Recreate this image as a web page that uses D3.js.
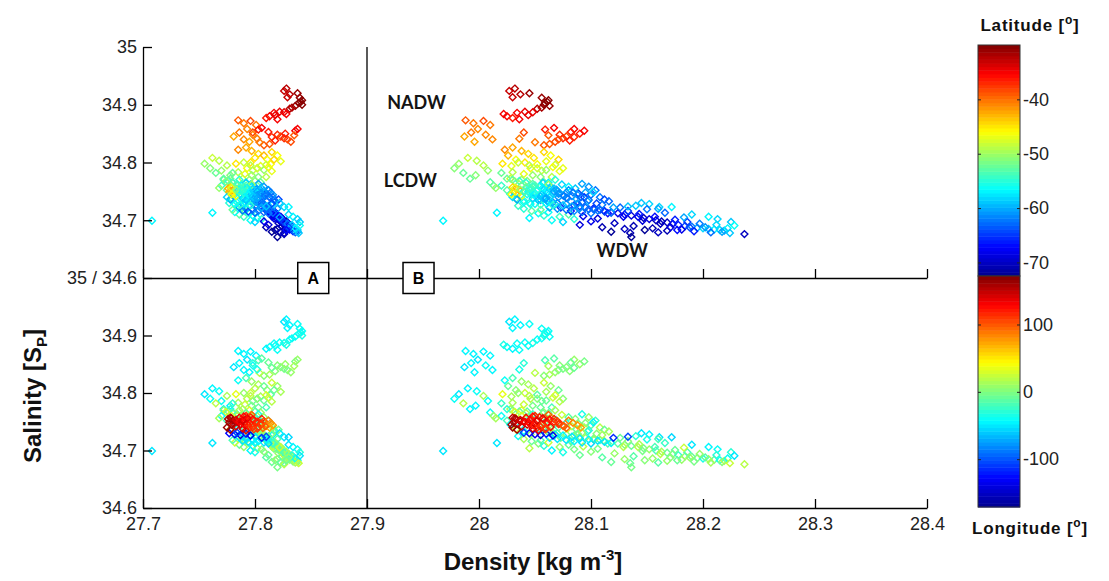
<!DOCTYPE html>
<html>
<head>
<meta charset="utf-8">
<script src="https://cdn.jsdelivr.net/npm/d3@7"></script>
<style>
  body { margin: 0; background: #fff; }
  svg text { font-family: "Liberation Sans", Arial, sans-serif; }
</style>
</head>
<body>
<svg id="chart" width="1109" height="581"></svg>
<script>
// each observation is plotted twice: once with density A (left cloud), once with density B (right cloud)
// groups: NADW curl | red row | orange scatter | orange cluster | yellow middle | green-left scatter |
//         yellow-green middle | green-cyan middle | lower spread | WDW band | band fill | mid dense |
//         cyan strip | blue strip | red-longitude cluster | red-longitude fill
var salinity = [
  34.928, 34.924, 34.918, 34.913, 34.920, 34.912, 34.905, 34.903, 34.898, 34.895, 34.900, 34.893, 34.908,
  34.888, 34.886, 34.887, 34.880, 34.877, 34.875, 34.882, 34.884,
  34.873, 34.868, 34.872, 34.865, 34.858, 34.852, 34.848, 34.845, 34.840, 34.836,
  34.848, 34.845, 34.842, 34.840, 34.838, 34.836, 34.844, 34.850, 34.855, 34.858, 34.832, 34.830, 34.853, 34.860, 34.857, 34.847, 34.835, 34.852, 34.841,
  34.826, 34.820, 34.815, 34.812, 34.808, 34.805, 34.800, 34.797, 34.794, 34.790, 34.822, 34.818, 34.812, 34.805, 34.802, 34.796, 34.790, 34.786,
  34.808, 34.803, 34.798, 34.795, 34.790, 34.786, 34.782, 34.778, 34.772, 34.766, 34.760, 34.699, 34.713,
  34.800, 34.795, 34.790, 34.787, 34.783, 34.780, 34.778, 34.775, 34.772, 34.770, 34.768, 34.792, 34.785, 34.775, 34.766, 34.798, 34.782,
  34.770, 34.768, 34.765, 34.763, 34.760, 34.765, 34.770, 34.762, 34.758, 34.755, 34.772, 34.767, 34.760, 34.756, 34.752, 34.745, 34.763, 34.758, 34.752, 34.748, 34.744, 34.740, 34.736, 34.733, 34.749, 34.730, 34.723, 34.723,
  34.725, 34.720, 34.716, 34.712, 34.708, 34.704, 34.700, 34.706, 34.710, 34.714, 34.718, 34.702, 34.697,
  34.735, 34.732, 34.730, 34.728, 34.726, 34.724, 34.722, 34.720, 34.718, 34.716, 34.714, 34.712, 34.710, 34.708, 34.706, 34.704, 34.702, 34.700, 34.698, 34.696, 34.694, 34.692, 34.690, 34.689, 34.687, 34.686, 34.685, 34.684, 34.683, 34.682,
  34.688, 34.680, 34.685, 34.678, 34.683, 34.679, 34.682, 34.671, 34.676, 34.692, 34.698,
  34.725, 34.728, 34.720, 34.710, 34.706, 34.702, 34.697,
  34.741, 34.731, 34.722, 34.738, 34.716, 34.729, 34.707, 34.733, 34.719, 34.703, 34.727, 34.712, 34.695, 34.722, 34.706, 34.716, 34.690, 34.711, 34.699, 34.719,
  34.686, 34.706, 34.694, 34.713, 34.688, 34.701, 34.684, 34.697, 34.705, 34.681, 34.694, 34.688, 34.679, 34.692, 34.680, 34.686, 34.678, 34.691, 34.688, 34.683,
  34.752, 34.746, 34.740, 34.735, 34.748, 34.742, 34.737, 34.731, 34.744, 34.738, 34.733, 34.755, 34.760, 34.765, 34.758, 34.753, 34.734, 34.728, 34.743, 34.737, 34.746, 34.740, 34.735, 34.729, 34.760,
  34.722, 34.720, 34.718, 34.716, 34.714, 34.712, 34.726, 34.724, 34.721, 34.719, 34.717, 34.715, 34.713, 34.728,
  34.730, 34.728, 34.727, 34.729, 34.726, 34.731, 34.722, 34.724,
  34.757, 34.755, 34.752, 34.749, 34.746, 34.742, 34.757, 34.754, 34.750, 34.747, 34.744, 34.740, 34.758, 34.753, 34.749, 34.745, 34.741, 34.737, 34.755, 34.751, 34.747, 34.743, 34.739, 34.752, 34.748, 34.744, 34.740, 34.750, 34.745, 34.738, 34.735, 34.760, 34.762, 34.736, 34.740,
  34.756, 34.753, 34.750, 34.747, 34.744, 34.741, 34.738, 34.754, 34.750, 34.746, 34.742, 34.756, 34.752, 34.759, 34.745
];
var latitude = [
  -32, -33, -32, -33, -31, -31, -30.5, -30.5, -31, -31.5, -30.5, -32, -30,
  -34, -35, -34, -35, -36, -35, -34, -35,
  -39, -40, -38, -40, -41, -40, -41, -42, -41, -42,
  -37, -38, -37, -38, -36, -38, -37, -36, -35, -35, -39, -39, -36, -35, -36, -39, -40, -38, -40,
  -42, -43, -44, -43, -45, -46, -45, -46, -47, -46, -41, -44, -46, -44, -47, -48, -47, -48,
  -48, -49, -50, -49, -51, -50, -52, -51, -52, -53, -52, -57, -57,
  -48, -49, -48, -50, -49, -47, -50, -51, -48, -50, -51, -46, -47, -49, -52, -45, -52,
  -53, -54, -55, -53, -56, -57, -55, -58, -57, -59, -52, -51, -54, -50, -53, -55, -60, -61, -62, -60, -63, -62, -64, -63, -58, -59, -58, -57,
  -54, -55, -53, -56, -55, -57, -56, -54, -53, -56, -52, -55, -58,
  -60, -62, -63, -61, -64, -65, -63, -66, -65, -67, -66, -68, -67, -69, -68, -70, -69, -70, -71, -70, -68, -66, -64, -62, -60, -58, -59, -57, -58, -60,
  -71, -72, -70, -71, -72, -70, -71, -72, -70, -69, -68,
  -59, -58, -60, -58, -57, -58, -59,
  -58, -63, -65, -61, -66, -62, -68, -60, -64, -69, -62, -67, -70, -63, -68, -65, -71, -66, -69, -62,
  -71, -67, -70, -63, -69, -66, -68, -65, -60, -66, -62, -61, -63, -58, -60, -57, -59, -56, -64, -67,
  -57, -59, -61, -58, -60, -62, -60, -63, -56, -57, -59, -55, -56, -58, -59, -61, -55, -56, -54, -53, -64, -65, -62, -64, -52,
  -60, -61, -62, -61, -63, -62, -59, -60, -61, -63, -62, -64, -63, -58,
  -55, -56, -54, -57, -55, -56, -60, -59,
  -44, -43, -42, -43, -45, -46, -52, -54, -55, -56, -55, -57, -56, -58, -57, -59, -58, -60, -59, -60, -61, -60, -62, -61, -62, -61, -63, -57, -56, -58, -59, -53, -50, -60, -58,
  -47, -50, -53, -55, -57, -59, -60, -58, -60, -61, -62, -57, -55, -54, -46
];
var longitude = [
  -45, -48, -44, -46, -42, -40, -38, -37, -39, -41, -36, -42, -38,
  -38, -40, -36, -42, -44, -41, -39, -37,
  -47, -44, -46, -43, -48, -45, -42, -50, -44, -46,
  2, 5, 0, -3, 3, 8, -6, 6, -2, 10, 12, 4, -8, -12, -20, 15, 18, -30, -35,
  -20, 10, 15, -10, 20, 5, 25, -15, 12, 18, -42, 22, 8, -5, 14, 28, 5, -8,
  -45, -40, -48, 15, -42, -38, 20, -44, -46, -40, 10, -50, -48,
  10, 20, 5, -5, 15, 25, 0, -10, 12, 30, -15, 22, 18, -20, 8, 35, -25,
  5, -10, 18, -25, 8, -5, 12, 22, -15, 2, -30, 28, -40, 15, -20, -45, -35, 10, -25, 5, -15, 18, -8, 12, -45, -50, -48, -55,
  -40, 15, -10, 5, -30, 20, -45, 10, -5, 25, -20, 0, -35,
  -30, -20, -10, 5, -15, 0, 10, -5, -25, 8, 15, -12, 2, -8, 20, -3, 6, -18, 12, -6, 3, -22, 9, -10, 0, -35, 16, -5, -40, 22,
  -15, -5, 10, -8, 4, -12, 7, -2, 20, -10, 5,
  -30, -45, -20, -50, -45, -40, -30,
  -20, 12, -6, 25, -14, 3, 18, -28, 7, -4, 14, -18, 9, -9, 21, 1, -11, 13, -2, -33,
  6, -16, 17, -24, 4, -7, 11, -19, 26, -1, 8, -13, 14, -27, 3, -38, 24, -48, 10, -6,
  -10, 5, -20, 12, -35, 20, -5, 8, 15, -15, 2, -25, 10, -8, 18, -12, -38, 6, -42, 22, -3, 14, -28, 4, 30,
  -50, -48, -52, -46, -50, -55, -45, -50, -53, -47, -49, -51, -44, -48,
  -125, -130, -140, -120, -135, -110, -115, -105,
  150, 160, 165, 155, 140, 145, 130, 125, 128, 120, 135, 118, 122, 115, 125, 112, 130, 110, 120, 105, 115, 100, 95, 90, 85, 80, 75, 140, 150, 145, 135, 118, 100, 160, 165,
  155, 140, 132, 126, 120, 115, 108, 125, 118, 110, 100, 135, 145, 128, 158
];
var densityA = [
  27.828, 27.826, 27.831, 27.829, 27.838, 27.840, 27.841, 27.839, 27.836, 27.833, 27.842, 27.831, 27.842,
  27.822, 27.817, 27.826, 27.813, 27.810, 27.820, 27.818, 27.828,
  27.785, 27.790, 27.796, 27.801, 27.793, 27.786, 27.798, 27.781, 27.790, 27.795,
  27.820, 27.823, 27.826, 27.829, 27.818, 27.832, 27.815, 27.827, 27.836, 27.838, 27.813, 27.808, 27.812, 27.806, 27.803, 27.835, 27.804, 27.798, 27.802,
  27.792, 27.797, 27.803, 27.808, 27.800, 27.811, 27.796, 27.814, 27.805, 27.793, 27.785, 27.815, 27.820, 27.817, 27.823, 27.810, 27.802, 27.798,
  27.762, 27.768, 27.755, 27.775, 27.760, 27.770, 27.765, 27.778, 27.772, 27.780, 27.784, 27.708, 27.762,
  27.790, 27.796, 27.802, 27.808, 27.785, 27.791, 27.797, 27.803, 27.789, 27.795, 27.800, 27.812, 27.815, 27.810, 27.805, 27.783, 27.780,
  27.772, 27.776, 27.780, 27.784, 27.788, 27.792, 27.786, 27.796, 27.800, 27.794, 27.778, 27.774, 27.770, 27.768, 27.775, 27.779, 27.803, 27.808, 27.812, 27.804, 27.809, 27.816, 27.821, 27.818, 27.805, 27.822, 27.826, 27.830,
  27.785, 27.788, 27.791, 27.795, 27.798, 27.802, 27.796, 27.790, 27.786, 27.782, 27.780, 27.806, 27.800,
  27.795, 27.800, 27.804, 27.808, 27.801, 27.806, 27.812, 27.809, 27.815, 27.811, 27.818, 27.814, 27.820, 27.817, 27.823, 27.819, 27.825, 27.822, 27.828, 27.824, 27.830, 27.827, 27.833, 27.829, 27.835, 27.831, 27.837, 27.833, 27.838, 27.834,
  27.810, 27.815, 27.820, 27.826, 27.818, 27.823, 27.828, 27.820, 27.826, 27.812, 27.808,
  27.812, 27.816, 27.820, 27.830, 27.834, 27.838, 27.840,
  27.797, 27.802, 27.806, 27.799, 27.811, 27.804, 27.815, 27.801, 27.809, 27.817, 27.807, 27.813, 27.821, 27.810, 27.816, 27.814, 27.824, 27.818, 27.822, 27.812,
  27.827, 27.820, 27.825, 27.816, 27.829, 27.823, 27.831, 27.826, 27.822, 27.834, 27.829, 27.832, 27.836, 27.833, 27.838, 27.836, 27.839, 27.840, 27.830, 27.828,
  27.790, 27.795, 27.800, 27.794, 27.803, 27.807, 27.802, 27.806, 27.787, 27.791, 27.796, 27.783, 27.788, 27.792, 27.797, 27.801, 27.785, 27.789, 27.781, 27.778, 27.810, 27.813, 27.817, 27.815, 27.779,
  27.786, 27.792, 27.798, 27.803, 27.808, 27.812, 27.795, 27.800, 27.805, 27.810, 27.789, 27.794, 27.800, 27.790,
  27.777, 27.782, 27.787, 27.792, 27.796, 27.784, 27.806, 27.810,
  27.778, 27.776, 27.780, 27.777, 27.781, 27.783, 27.786, 27.790, 27.788, 27.793, 27.791, 27.795, 27.796, 27.799, 27.801, 27.797, 27.803, 27.799, 27.806, 27.808, 27.805, 27.810, 27.807, 27.812, 27.814, 27.816, 27.813, 27.784, 27.787, 27.789, 27.792, 27.792, 27.797, 27.778, 27.775,
  27.779, 27.783, 27.786, 27.790, 27.794, 27.798, 27.802, 27.798, 27.802, 27.806, 27.809, 27.793, 27.789, 27.790, 27.779
];
var densityB = [
  28.032, 28.027, 28.037, 28.030, 28.045, 28.056, 28.061, 28.059, 28.063, 28.056, 28.058, 28.052, 28.062,
  28.041, 28.034, 28.048, 28.025, 28.030, 28.036, 28.044, 28.022,
  27.988, 27.995, 28.004, 28.010, 27.999, 27.993, 28.006, 27.987, 28.012, 27.996,
  28.072, 28.078, 28.075, 28.071, 28.081, 28.068, 28.085, 28.090, 28.094, 28.085, 28.063, 28.058, 28.082, 28.067, 28.059, 28.062, 28.050, 28.040, 28.036,
  28.030, 28.038, 28.044, 28.026, 28.049, 28.033, 28.041, 28.052, 28.029, 28.046, 28.023, 28.058, 28.064, 28.071, 28.060, 28.068, 28.075, 28.056,
  27.990, 27.998, 27.982, 28.004, 27.978, 28.008, 27.986, 27.997, 27.992, 28.010, 28.013, 27.968, 28.016,
  28.035, 28.045, 28.052, 28.060, 28.030, 28.040, 28.048, 28.055, 28.028, 28.038, 28.043, 28.066, 28.072, 28.065, 28.058, 28.021, 28.020,
  28.030, 28.036, 28.042, 28.048, 28.055, 28.062, 28.068, 28.074, 28.080, 28.086, 28.025, 28.032, 28.020, 28.015, 28.025, 28.028, 28.092, 28.098, 28.104, 28.095, 28.100, 28.108, 28.112, 28.116, 28.102, 28.145, 28.161, 28.172,
  28.035, 28.040, 28.047, 28.053, 28.058, 28.045, 28.065, 28.072, 28.080, 28.062, 28.055, 28.085, 28.075,
  28.055, 28.062, 28.070, 28.078, 28.085, 28.090, 28.095, 28.102, 28.108, 28.112, 28.118, 28.124, 28.130, 28.136, 28.142, 28.147, 28.152, 28.158, 28.163, 28.168, 28.173, 28.178, 28.184, 28.190, 28.195, 28.200, 28.205, 28.210, 28.215, 28.219,
  28.110, 28.118, 28.130, 28.135, 28.148, 28.160, 28.168, 28.136, 28.237, 28.090, 28.100,
  28.140, 28.152, 28.160, 28.190, 28.205, 28.213, 28.225,
  28.058, 28.066, 28.073, 28.079, 28.082, 28.088, 28.093, 28.097, 28.103, 28.106, 28.110, 28.115, 28.121, 28.126, 28.129, 28.133, 28.138, 28.143, 28.146, 28.150,
  28.155, 28.157, 28.162, 28.166, 28.171, 28.175, 28.181, 28.186, 28.183, 28.192, 28.197, 28.202, 28.207, 28.212, 28.217, 28.222, 28.224, 28.228, 28.188, 28.177,
  28.060, 28.066, 28.071, 28.063, 28.078, 28.083, 28.087, 28.092, 28.054, 28.058, 28.061, 28.045, 28.050, 28.057, 28.064, 28.069, 28.040, 28.046, 28.037, 28.033, 28.089, 28.094, 28.098, 28.105, 28.038,
  28.063, 28.070, 28.078, 28.085, 28.092, 28.100, 28.075, 28.083, 28.090, 28.098, 28.106, 28.112, 28.118, 28.068,
  28.045, 28.050, 28.055, 28.060, 28.066, 28.040, 28.120, 28.133,
  28.030, 28.033, 28.036, 28.031, 28.035, 28.038, 28.042, 28.046, 28.044, 28.050, 28.047, 28.052, 28.054, 28.058, 28.061, 28.056, 28.064, 28.059, 28.067, 28.070, 28.072, 28.075, 28.078, 28.080, 28.084, 28.088, 28.091, 28.040, 28.043, 28.048, 28.053, 28.050, 28.062, 28.034, 28.030,
  28.032, 28.037, 28.041, 28.045, 28.049, 28.055, 28.060, 28.063, 28.067, 28.071, 28.076, 28.057, 28.052, 28.048, 28.029
];

var densityTicks = [27.7, 27.8, 27.9, 28.0, 28.1, 28.2, 28.3, 28.4];
var salinityTicksTop = [34.7, 34.8, 34.9, 35];
var salinityTicksBottom = [34.6, 34.7, 34.8, 34.9, 35];
var latRange = [-72.5, -30];
var lonRange = [-171, 172];
var latTicks = [-70, -60, -50, -40];
var lonTicks = [-100, 0, 100];
var waterMasses = [
  {label: "NADW", density: 27.918, salinity: 34.903},
  {label: "LCDW", density: 27.915, salinity: 34.768},
  {label: "WDW", density: 28.105, salinity: 34.647}
];
var boxes = [{label: "A", density: 27.852}, {label: "B", density: 27.946}];

var svg = d3.select("#chart");
var x = d3.scaleLinear().domain([27.7, 28.4]).range([143, 927]);
var yTop = d3.scaleLinear().domain([34.6, 35]).range([278, 47]);
var yBot = d3.scaleLinear().domain([34.6, 35]).range([508, 278]);

// MATLAB jet, 64 flat levels
var jet = d3.scaleLinear()
    .domain([0, 0.125, 0.375, 0.625, 0.875, 1])
    .range(["#00008f", "#0000ff", "#00ffff", "#ffff00", "#ff0000", "#800000"])
    .clamp(true);
function jet64(t) {
    var k = Math.max(0, Math.min(63, Math.floor(t * 64)));
    return jet((k + 0.5) / 64);
}
var latNorm = d3.scaleLinear().domain(latRange).range([0, 1]).clamp(true);
var lonNorm = d3.scaleLinear().domain(lonRange).range([0, 1]).clamp(true);

var diamondType = {
    draw: function (ctx, size) {
        var r = Math.sqrt(size / 2);
        ctx.moveTo(0, -r); ctx.lineTo(r, 0); ctx.lineTo(0, r); ctx.lineTo(-r, 0); ctx.closePath();
    }
};
var diamond = d3.symbol().type(diamondType).size(24)();
var idx = d3.range(salinity.length);

function drawPanel(yScale, colorOf, cls) {
    var g = svg.append("g").attr("class", cls);
    [densityA, densityB].forEach(function (dens) {
        g.append("g").selectAll("path")
            .data(idx)
            .enter().append("path")
            .attr("d", diamond)
            .attr("transform", function (i) { return "translate(" + x(dens[i]) + "," + yScale(salinity[i]) + ")"; })
            .attr("fill", "none")
            .attr("stroke", function (i) { return colorOf(i); })
            .attr("stroke-width", 1.4);
    });
}
drawPanel(yTop, function (i) { return jet64(latNorm(latitude[i])); }, "lat-panel");
drawPanel(yBot, function (i) { return jet64(lonNorm(longitude[i])); }, "lon-panel");

function styleAxis(g) {
    g.selectAll("path, line").attr("stroke", "#000").attr("stroke-width", 1.3);
    g.selectAll("text").attr("fill", "#222").style("font-size", "18px").attr("font-family", null);
}

// left axes
svg.append("g").attr("transform", "translate(143,0)")
    .call(d3.axisLeft(yTop).tickValues(salinityTicksTop)
        .tickFormat(function (d) { return d === 35 ? "35" : d.toFixed(1); })
        .tickSize(-9).tickSizeOuter(0).tickPadding(6))
    .call(styleAxis);
svg.append("g").attr("transform", "translate(143,0)")
    .call(d3.axisLeft(yBot).tickValues(salinityTicksBottom)
        .tickFormat(function (d) { return d === 35 ? "35 / 34.6" : d.toFixed(1); })
        .tickSize(-9).tickSizeOuter(0).tickPadding(6))
    .call(styleAxis);

// middle and bottom x axes
svg.append("g").attr("transform", "translate(0,278)")
    .call(d3.axisBottom(x).tickValues(densityTicks).tickFormat("").tickSize(-9).tickSizeOuter(0))
    .call(styleAxis);
svg.append("g").attr("transform", "translate(0,508)")
    .call(d3.axisBottom(x).tickValues(densityTicks).tickFormat(function (d) { return d === 28 ? "28" : d.toFixed(1); })
        .tickSize(-9).tickSizeOuter(0).tickPadding(9))
    .call(styleAxis);

// A / B divider
svg.append("line")
    .attr("x1", x(27.9)).attr("x2", x(27.9))
    .attr("y1", yTop(35)).attr("y2", yBot(34.6))
    .attr("stroke", "#000").attr("stroke-width", 1.3);

var bx = svg.append("g").selectAll("g").data(boxes).enter().append("g")
    .attr("transform", function (d) { return "translate(" + x(d.density) + "," + yTop(34.6) + ")"; });
bx.append("rect").attr("x", -15.5).attr("y", -15.5).attr("width", 31).attr("height", 31)
    .attr("fill", "#fff").attr("stroke", "#000").attr("stroke-width", 1.5);
bx.append("text").attr("text-anchor", "middle").attr("dy", "0.36em")
    .style("font-size", "16px").style("font-weight", "bold").attr("fill", "#000")
    .text(function (d) { return d.label; });

// water mass labels
svg.append("g").selectAll("text").data(waterMasses).enter().append("text")
    .attr("x", function (d) { return x(d.density); })
    .attr("y", function (d) { return yTop(d.salinity); })
    .attr("dy", "0.35em")
    .style("font-family", "Lato, 'Open Sans', sans-serif").style("font-weight", "bold").style("font-size", "18px")
    .attr("fill", "#141414")
    .text(function (d) { return d.label; });

// axis titles
var xt = svg.append("text").attr("x", 533).attr("y", 570).attr("text-anchor", "middle")
    .style("font-size", "24px").style("font-weight", "bold").attr("fill", "#111");
xt.append("tspan").text("Density [kg m");
xt.append("tspan").attr("dy", -10).style("font-size", "15px").text("-3");
xt.append("tspan").attr("dy", 10).text("]");

var yt = svg.append("text").attr("transform", "translate(41,396) rotate(-90)").attr("text-anchor", "middle")
    .style("font-size", "24px").style("font-weight", "bold").attr("fill", "#111");
yt.append("tspan").text("Salinity [S");
yt.append("tspan").attr("dy", 6).style("font-size", "15px").text("P");
yt.append("tspan").attr("dy", -6).text("]");

// colourbars
function colorbar(range, ticks, y0, y1) {
    var s = d3.scaleLinear().domain(range).range([y1, y0]);
    var g = svg.append("g");
    var step = (range[1] - range[0]) / 64;
    g.selectAll("rect").data(d3.range(64)).enter().append("rect")
        .attr("x", 978).attr("width", 42)
        .attr("y", function (k) { return s(range[0] + (k + 1) * step); })
        .attr("height", function (k) { return s(range[0] + k * step) - s(range[0] + (k + 1) * step) + 0.5; })
        .attr("fill", function (k) { return jet((k + 0.5) / 64); });
    g.append("rect").attr("x", 978).attr("y", y0).attr("width", 42).attr("height", y1 - y0)
        .attr("fill", "none").attr("stroke", "#333").attr("stroke-width", 1);
    g.append("g").attr("transform", "translate(1020,0)")
        .call(d3.axisRight(s).tickValues(ticks).tickFormat(String).tickSize(-3).tickSizeOuter(0).tickPadding(3))
        .call(function (a) {
            a.select(".domain").remove();
            a.selectAll("line").attr("stroke", "#222");
            a.selectAll("text").attr("fill", "#222").style("font-size", "18px").attr("font-family", null);
        });
    g.append("g").attr("transform", "translate(978,0)")
        .call(d3.axisLeft(s).tickValues(ticks).tickSize(-3).tickSizeOuter(0).tickFormat(""))
        .call(function (a) { a.select(".domain").remove(); a.selectAll("line").attr("stroke", "#222"); });
}
colorbar(latRange, latTicks, 45, 276);
colorbar(lonRange, lonTicks, 276, 507);

function cbTitle(label, yPos) {
    var t = svg.append("text").attr("x", 1030).attr("y", yPos).attr("text-anchor", "middle")
        .style("font-size", "17px").style("font-weight", "bold").style("letter-spacing", "0.8px").attr("fill", "#111");
    t.append("tspan").text(label + " [");
    t.append("tspan").attr("dy", -7).style("font-size", "12px").text("o");
    t.append("tspan").attr("dy", 7).text("]");
}
cbTitle("Latitude", 31);
cbTitle("Longitude", 534);
</script>
</body>
</html>
